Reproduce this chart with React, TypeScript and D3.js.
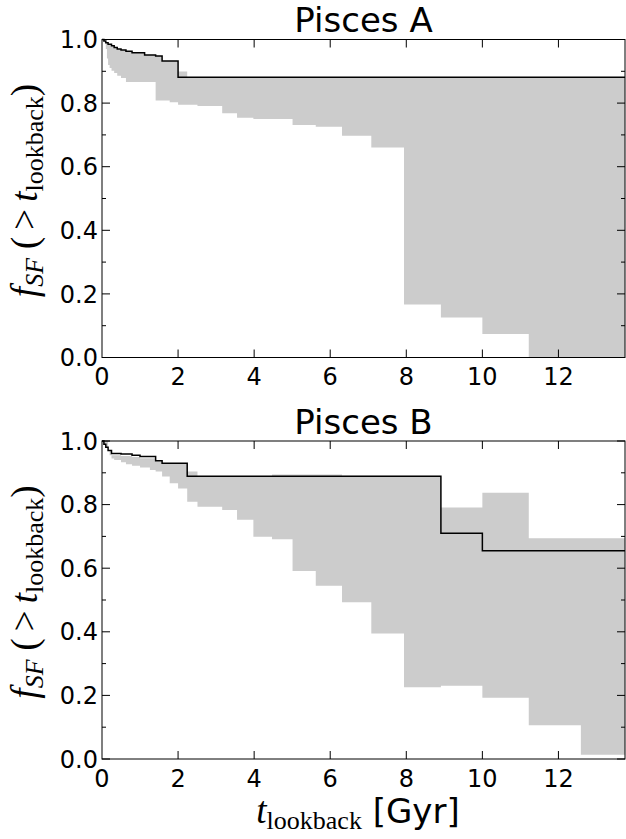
import * as d3 from 'd3';
import * as React from 'react';

// step curves: [lookback time (Gyr), value from that time on]
const aMedian: [number, number][] = [
    [0, 1.0], [0.05, 0.995], [0.1, 0.99], [0.16, 0.985], [0.25, 0.98], [0.32, 0.975], [0.4, 0.97],
    [0.5, 0.967], [0.63, 0.963], [0.79, 0.958], [1.12, 0.951], [1.41, 0.948], [1.58, 0.932], [2.0, 0.881],
];
const aUpper: [number, number][] = [
    [0, 1.0], [0.05, 0.995], [0.1, 0.99], [0.16, 0.985], [0.25, 0.98], [0.32, 0.975], [0.4, 0.97],
    [0.5, 0.967], [0.63, 0.963], [0.79, 0.958], [1.12, 0.951], [1.41, 0.948], [1.58, 0.932], [2.0, 0.899],
    [2.24, 0.881],
];
const aLower: [number, number][] = [
    [0, 1.0], [0.07, 0.99], [0.1, 0.97], [0.13, 0.94], [0.16, 0.92], [0.2, 0.91], [0.25, 0.902],
    [0.32, 0.895], [0.4, 0.886], [0.5, 0.879], [0.63, 0.866], [1.41, 0.808], [1.78, 0.803], [2.0, 0.795],
    [2.51, 0.791], [3.16, 0.768], [3.55, 0.754], [3.98, 0.75], [5.01, 0.731], [5.62, 0.726], [6.31, 0.697],
    [7.08, 0.66], [7.94, 0.167], [8.91, 0.126], [10.0, 0.074], [11.22, 0.0],
];

const bMedian: [number, number][] = [
    [0, 1.0], [0.05, 0.99], [0.1, 0.98], [0.16, 0.97], [0.25, 0.961], [0.5, 0.959], [0.79, 0.955],
    [1.0, 0.951], [1.41, 0.938], [1.58, 0.93], [2.24, 0.889], [8.91, 0.71], [10.0, 0.655],
];
const bUpper: [number, number][] = [
    [0, 1.0], [0.05, 0.99], [0.1, 0.98], [0.16, 0.97], [0.25, 0.955], [0.5, 0.953], [0.79, 0.95],
    [1.0, 0.946], [1.41, 0.936], [1.58, 0.928], [2.24, 0.904], [2.51, 0.889], [4.47, 0.895], [6.31, 0.891],
    [8.91, 0.791], [10.0, 0.837], [11.22, 0.694],
];
const bLower: [number, number][] = [
    [0, 1.0], [0.16, 0.97], [0.2, 0.955], [0.25, 0.945], [0.32, 0.94], [0.5, 0.933], [0.63, 0.927],
    [0.79, 0.922], [1.0, 0.917], [1.26, 0.909], [1.41, 0.904], [1.58, 0.888], [1.78, 0.867], [2.0, 0.851],
    [2.24, 0.809], [2.51, 0.793], [3.16, 0.783], [3.55, 0.752], [3.98, 0.699], [4.47, 0.691], [5.01, 0.591],
    [5.62, 0.545], [6.31, 0.493], [7.08, 0.395], [7.94, 0.226], [8.91, 0.23], [10.0, 0.193], [11.22, 0.106],
    [12.59, 0.013],
];

const xTicks = [0, 2, 4, 6, 8, 10, 12];
const yTicks = [0, 0.2, 0.4, 0.6, 0.8, 1.0];
const yMinor = [0.1, 0.3, 0.5, 0.7, 0.9];
const T_MAX = 13.75;

const left = 102;
const right = 625;
const panelH = 318;
const sans = 'DejaVu Sans';
const serif = 'Liberation Serif';

const stepAt = (s: [number, number][], t: number) => {
    let v = s[0][1];
    for (const [x, y] of s) if (x <= t) v = y;
    return v;
};

interface PanelProps {
    title: string;
    top: number;
    median: [number, number][];
    upper: [number, number][];
    lower: [number, number][];
}

const Panel = ({title, top, median, upper, lower}: PanelProps) => {
    const x = d3.scaleLinear().domain([0, T_MAX]).range([left, right]);
    const y = d3.scaleLinear().domain([0, 1]).range([top + panelH, top]);
    const bottom = top + panelH;

    const edges = Array.from(new Set([...upper.map((d) => d[0]), ...lower.map((d) => d[0]), T_MAX])).sort((a, b) => a - b);
    const band = edges.map((t) => ({t, hi: stepAt(upper, t), lo: stepAt(lower, t)}));
    const area = d3.area<{t: number; hi: number; lo: number}>()
        .x((d) => x(d.t))
        .y0((d) => y(d.lo))
        .y1((d) => y(d.hi))
        .curve(d3.curveStepAfter);

    const linePts: [number, number][] = [...median, [T_MAX, median[median.length - 1][1]]];
    const line = d3.line<[number, number]>()
        .x((d) => x(d[0]))
        .y((d) => y(d[1]))
        .curve(d3.curveStepAfter);

    const midY = top + panelH / 2 - 8;

    return (
        <g>
            <path d={area(band) || ''} fill='#cccccc' stroke='none' />
            <path d={line(linePts) || ''} fill='none' stroke='black' strokeWidth={1.5} />
            <rect x={left} y={top} width={right - left} height={panelH} fill='none' stroke='black' strokeWidth={1} />
            {xTicks.map((t) => (
                <g key={'x' + t}>
                    {t > 0 && <line x1={x(t)} x2={x(t)} y1={bottom} y2={bottom - 8} stroke='black' />}
                    {t > 0 && <line x1={x(t)} x2={x(t)} y1={top} y2={top + 8} stroke='black' />}
                    <text x={x(t)} y={bottom + 27.5} textAnchor='middle' fontFamily={sans} fontSize={24}>{t}</text>
                </g>
            ))}
            {yTicks.map((v) => (
                <g key={'y' + v}>
                    <line x1={left} x2={left + 8} y1={y(v)} y2={y(v)} stroke='black' />
                    <line x1={right} x2={right - 8} y1={y(v)} y2={y(v)} stroke='black' />
                    <text x={left - 4} y={y(v)} dy='0.36em' textAnchor='end' fontFamily={sans} fontSize={24}>{v.toFixed(1)}</text>
                </g>
            ))}
            {yMinor.map((v) => (
                <g key={'m' + v}>
                    <line x1={left} x2={left + 4} y1={y(v)} y2={y(v)} stroke='black' />
                    <line x1={right} x2={right - 4} y1={y(v)} y2={y(v)} stroke='black' />
                </g>
            ))}
            <text x={(left + right) / 2} y={top - 7.5} textAnchor='middle' fontFamily={sans} fontSize={34}>{title}</text>
            <text transform={`translate(37,${midY}) rotate(-90)`} textAnchor='middle' fontFamily={serif} fontSize={37}>
                <tspan fontStyle='italic'>f</tspan>
                <tspan fontStyle='italic' fontSize={26} dy={6}>SF</tspan>
                <tspan dy={-6} dx={9}>(</tspan>
                <tspan dx={7}>{'>'}</tspan>
                <tspan dx={7} fontStyle='italic'>t</tspan>
                <tspan fontSize={26} dy={6}>lookback</tspan>
                <tspan dy={-6}>)</tspan>
            </text>
        </g>
    );
};

export default function App() {
    return (
        <svg width={626} height={839} style={{position: 'absolute', left: 0, top: 0}}>
            <rect width={626} height={839} fill='white' />
            <Panel title='Pisces A' top={39.5} median={aMedian} upper={aUpper} lower={aLower} />
            <Panel title='Pisces B' top={441} median={bMedian} upper={bUpper} lower={bLower} />
            <text x={358} y={823} textAnchor='middle' fontSize={34}>
                <tspan fontFamily={serif} fontStyle='italic' fontSize={37}>t</tspan>
                <tspan fontFamily={serif} fontSize={26} dy={6}>lookback</tspan>
                <tspan fontFamily={sans} dy={-6}> [Gyr]</tspan>
            </text>
        </svg>
    );
}
